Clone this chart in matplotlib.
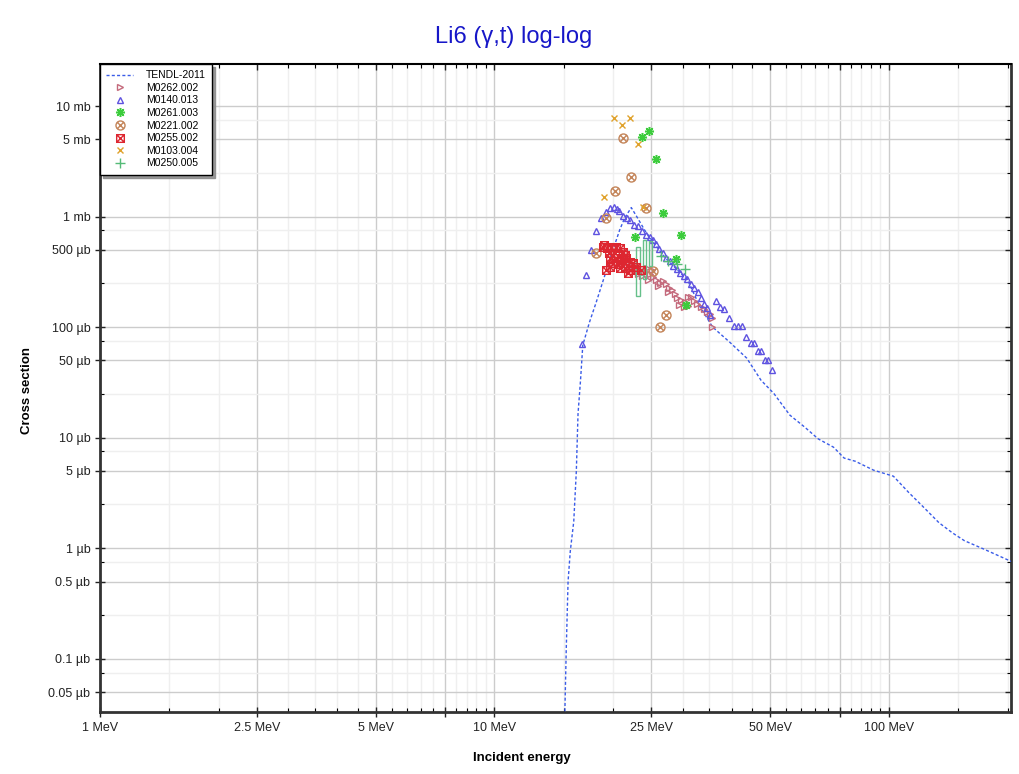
import matplotlib
matplotlib.use("Agg")
import matplotlib.pyplot as plt
import matplotlib.lines as mlines
import numpy as np
from matplotlib.path import Path
from matplotlib.patches import Rectangle
from matplotlib.ticker import FixedLocator, FixedFormatter, FuncFormatter

plt.rcParams["font.family"] = ["Liberation Sans", "DejaVu Sans"]

# energies in MeV, cross sections in mb
tendl_e = [15.0, 15.09, 15.21, 15.37, 15.57, 15.89, 16.13, 16.29, 16.53, 16.75, 17.42, 18.12,
           19.02, 19.93, 20.77, 21.38, 22.23, 23.07, 24.03, 24.74, 27.0, 30.89, 33.14, 35.75,
           39.49, 43.62, 47.4, 51.1, 56.1, 61.2, 66.2, 72.4, 77.0, 82.2, 91.5, 102.7, 112.4,
           121.6, 134.0, 145.0, 155.4, 173.2, 206.4]
tendl_xs = [1e-5, 3.49e-5, 1.245e-4, 5.0e-4, 9.4e-4, 1.75e-3, 5.0e-3, 0.01645, 0.0331, 0.0687,
            0.111, 0.1684, 0.2893, 0.4873, 0.755, 0.969, 1.206, 0.969, 0.755, 0.652, 0.430,
            0.2662, 0.155, 0.100, 0.0731, 0.0524, 0.0331, 0.0251, 0.016, 0.01245, 9.75e-3,
            8.2e-3, 6.54e-3, 6.12e-3, 5.08e-3, 4.48e-3, 3.18e-3, 2.41e-3, 1.70e-3, 1.375e-3,
            1.17e-3, 9.9e-4, 7.47e-4]

m0262_e = [21.76, 22.27, 22.80, 23.34, 23.89, 24.31, 24.74, 25.18, 25.73, 26.23, 25.93, 26.69,
           27.16, 27.64, 28.13, 27.48, 28.63, 28.97, 29.66, 30.36, 29.31, 30.18, 30.89, 31.45,
           32.01, 32.57, 30.89, 33.33, 33.93, 34.52, 35.13, 35.54, 35.54, 23.61, 24.45, 25.02,
           23.07]
m0262_xs = [0.3875, 0.3565, 0.342, 0.328, 0.3145, 0.342, 0.3017, 0.2835, 0.2662, 0.250, 0.235,
            0.261, 0.245, 0.2254, 0.2163, 0.2073, 0.1989, 0.1830, 0.1755, 0.1684, 0.1582,
            0.1517, 0.1868, 0.1868, 0.172, 0.1614, 0.155, 0.1517, 0.1455, 0.1367, 0.1311,
            0.1206, 0.100, 0.2893, 0.2662, 0.328, 0.3017]

m0140_e = [16.66, 17.09, 17.60, 18.12, 18.66, 19.13, 19.62, 20.08, 20.40, 20.70, 21.19, 21.63,
           22.08, 22.57, 23.11, 23.71, 24.24, 24.79, 25.25, 25.70, 26.15, 26.69, 27.25, 27.81,
           28.39, 28.97, 29.57, 30.18, 30.81, 31.45, 32.09, 32.75, 33.33, 33.93, 34.52, 35.13,
           36.38, 37.39, 38.13, 39.37, 40.50, 41.45, 42.44, 43.44, 44.60, 45.50, 46.60, 47.53,
           48.60, 49.45, 50.47]
m0140_xs = [0.0702, 0.2955, 0.4975, 0.744, 0.963, 1.098, 1.201, 1.227, 1.181, 1.121, 1.021,
            0.969, 0.930, 0.838, 0.829, 0.744, 0.687, 0.648, 0.613, 0.564, 0.508, 0.467, 0.4256,
            0.3957, 0.360, 0.335, 0.311, 0.2925, 0.272, 0.2475, 0.2278, 0.2096, 0.1819, 0.1614,
            0.150, 0.1284, 0.1709, 0.1527, 0.1455, 0.1219, 0.1015, 0.1015, 0.1015, 0.0807,
            0.0716, 0.0716, 0.0606, 0.0606, 0.0503, 0.0503, 0.0408]

m0261_e = [23.65, 24.64, 25.73, 26.74, 22.66, 29.77, 28.8, 30.65]
m0261_xs = [5.24, 5.94, 3.29, 1.08, 0.648, 0.687, 0.41, 0.16]

m0221_e = [21.17, 22.14, 20.16, 24.16, 19.13, 18.12, 25.22, 27.28, 26.23]
m0221_xs = [5.10, 2.26, 1.69, 1.19, 0.98, 0.47, 0.323, 0.130, 0.0994]

m0255_e = [18.83, 19.28, 19.78, 20.37, 20.77, 19.47, 20.16, 21.17, 21.38, 19.66, 20.37, 20.97,
           21.60, 19.96, 20.77, 21.38, 22.01, 22.44, 19.21, 19.59, 20.77, 21.38, 22.01, 22.89,
           21.79, 23.57, 20.52, 18.91]
m0255_xs = [0.533, 0.5157, 0.5266, 0.533, 0.5157, 0.467, 0.4645, 0.4743, 0.4483, 0.4184,
            0.4237, 0.4124, 0.4184, 0.3771, 0.3851, 0.3771, 0.3899, 0.3771, 0.328, 0.3513,
            0.3398, 0.3398, 0.328, 0.3513, 0.3062, 0.328, 0.3716, 0.552]

m0103_e = [20.04, 21.09, 22.1, 23.1, 18.93, 23.84]
m0103_xs = [7.74, 6.73, 7.74, 4.50, 1.50, 1.21]

m0250_e = [26.5, 27.6, 29.0, 30.4]
m0250_xs = [0.44, 0.396, 0.372, 0.335]
m0250_box_e = [23.1, 24.0, 24.9]
m0250_box_lo = [0.19, 0.27, 0.36]
m0250_box_hi = [0.53, 0.61, 0.60]

x_major = [1, 2.5, 5, 7.5, 10, 25, 50, 75, 100]
x_labels = ["1 MeV", "2.5 MeV", "5 MeV", "", "10 MeV", "25 MeV", "50 MeV", "", "100 MeV"]
y_major = [5e-5, 1e-4, 5e-4, 1e-3, 5e-3, 1e-2, 5e-2, 0.1, 0.5, 1, 5, 10]


def circle_x():
    d = 0.7071
    return Path.make_compound_path(
        Path.unit_circle(),
        Path([(-d, -d), (d, d)], [Path.MOVETO, Path.LINETO]),
        Path([(-d, d), (d, -d)], [Path.MOVETO, Path.LINETO]),
    )


def square_x():
    sq = Path([(-1, -1), (1, -1), (1, 1), (-1, 1), (-1, -1)],
              [Path.MOVETO, Path.LINETO, Path.LINETO, Path.LINETO, Path.CLOSEPOLY])
    return Path.make_compound_path(
        sq,
        Path([(-1, -1), (1, 1)], [Path.MOVETO, Path.LINETO]),
        Path([(-1, 1), (1, -1)], [Path.MOVETO, Path.LINETO]),
    )


fig = plt.figure(figsize=(10.2, 7.74), dpi=100)
ax = fig.add_axes([100 / 1020, 1 - 712 / 774, 911 / 1020, 648 / 774])
ax.set_xscale("log")
ax.set_yscale("log")

ax.plot(tendl_e, tendl_xs, color="#3a5ce8", lw=1.0, ls=(0, (2.2, 1.6)), label="TENDL-2011", zorder=3)
ax.plot(m0262_e, m0262_xs, ls="none", marker=">", ms=5, mfc="none", mec="#c46a7c", mew=1.0,
        label="M0262.002", zorder=4)
ax.plot(m0140_e, m0140_xs, ls="none", marker="^", ms=5, mfc="none", mec="#5e52e0", mew=1.0,
        label="M0140.013", zorder=4)
ax.plot(m0261_e, m0261_xs, ls="none", marker=(8, 2, 0), ms=6.5, mec="#3ccc3c", mew=1.1,
        label="M0261.003", zorder=4)
ax.plot(m0221_e, m0221_xs, ls="none", marker=circle_x(), ms=6.5, mfc="none", mec="#c4855a", mew=1.0,
        label="M0221.002", zorder=4)
ax.plot(m0255_e, m0255_xs, ls="none", marker=square_x(), ms=5.5, mfc="none", mec="#dd2630", mew=1.0,
        label="M0255.002", zorder=5)
ax.plot(m0103_e, m0103_xs, ls="none", marker="x", ms=5, mec="#e0a22c", mew=1.0,
        label="M0103.004", zorder=4)
for e, lo, hi in zip(m0250_box_e, m0250_box_lo, m0250_box_hi):
    ax.add_patch(Rectangle((e * 0.99, lo), e * 0.02, hi - lo, fill=False, ec="#66c08a", lw=1.0, zorder=4))
ax.plot(m0250_e, m0250_xs, ls="none", marker="+", ms=7, mec="#55bb77", mew=1.0,
        label="M0250.005", zorder=4)

ax.set_xlim(1, 204)
ax.set_ylim(3.3e-5, 24)

x_minor = list(np.arange(1.5, 10, 0.5)) + list(np.arange(15, 100, 5)) + [150, 200]
x_minor = [v for v in x_minor if v not in x_major]
ax.xaxis.set_major_locator(FixedLocator(x_major))
ax.xaxis.set_major_formatter(FixedFormatter(x_labels))
ax.xaxis.set_minor_locator(FixedLocator(x_minor))
ax.xaxis.set_minor_formatter(FixedFormatter([""] * len(x_minor)))

decades = [1e-5, 1e-4, 1e-3, 1e-2, 1e-1, 1, 10]
y_minor = [d * f for d in decades for f in (2.5, 7.5)]
ax.yaxis.set_major_locator(FixedLocator(y_major))
ax.yaxis.set_major_formatter(FuncFormatter(lambda v, p: f"{v:g} mb" if v >= 1 else f"{v * 1000:g} µb"))
ax.yaxis.set_minor_locator(FixedLocator(y_minor))
ax.yaxis.set_minor_formatter(FuncFormatter(lambda v, p: ""))

ax.grid(which="major", color="#cccccc", lw=1.0)
ax.grid(which="minor", color="#efefef", lw=1.0)
ax.set_axisbelow(True)

ax.tick_params(which="major", direction="inout", length=7, width=1, labelsize=9, colors="#222222",
               top=True, right=True)
ax.tick_params(which="minor", direction="in", length=3, width=0.8, top=True, right=True)
ax.tick_params(axis="x", which="major", pad=4)
for side in ("left", "right", "bottom"):
    ax.spines[side].set_linewidth(2)
    ax.spines[side].set_color("#333333")
ax.spines["top"].set_linewidth(1.5)
ax.spines["top"].set_color("black")

# top/right major ticks point inward only
for t in ax.xaxis.get_major_ticks():
    t.tick2line.set_marker(mlines.TICKDOWN)
    t.tick2line.set_markersize(4)
for t in ax.yaxis.get_major_ticks():
    t.tick2line.set_marker(mlines.TICKLEFT)
    t.tick2line.set_markersize(4)

leg = ax.legend(loc="upper left", bbox_to_anchor=(0, 1), borderaxespad=0, fontsize=7.5,
                frameon=True, fancybox=False, edgecolor="black", framealpha=1,
                labelspacing=0.25, handlelength=2.6, handletextpad=1.2, borderpad=0.6,
                shadow={"color": "0.55", "alpha": 0.9})
leg.get_frame().set_linewidth(1.0)
leg.set_zorder(10)

fig.text(0.504, 1 - 37 / 774, "Li6 (γ,t) log-log", color="#1717c8", fontsize=17, ha="center", va="center")
fig.text(522 / 1020, 1 - 758 / 774, "Incident energy", fontsize=9.5, fontweight="bold", ha="center", va="center")
fig.text(27 / 1020, 1 - 390 / 774, "Cross section", fontsize=9.5, fontweight="bold", rotation=90,
         ha="center", va="center")

fig.savefig("out.png", dpi=100)
